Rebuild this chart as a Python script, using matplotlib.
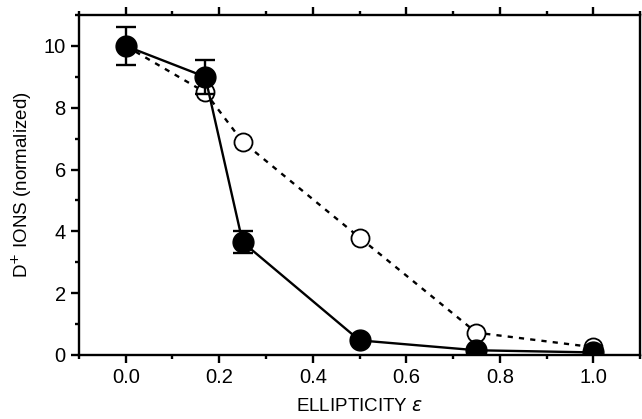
import matplotlib
matplotlib.use("Agg")
import matplotlib.pyplot as plt
from matplotlib.ticker import MultipleLocator

plt.rcParams['font.family'] = ['Liberation Sans', 'DejaVu Sans']

ellipticity = [0.0, 0.17, 0.25, 0.5, 0.75, 1.0]
filled_vals = [10.0, 9.0, 3.65, 0.47, 0.15, 0.08]
filled_err = [0.6, 0.55, 0.35, 0.0, 0.0, 0.0]
open_vals = [10.0, 8.5, 6.9, 3.8, 0.72, 0.25]

fig = plt.figure(figsize=(6.42, 4.19), dpi=100)
ax = fig.add_axes([0.123, 0.153, 0.874, 0.811])

ax.plot(ellipticity, open_vals, linestyle=(0, (2.2, 2.6)), color='black', lw=1.7,
        marker='o', ms=13, mfc='white', mec='black', mew=1.3, zorder=2)
ax.errorbar(ellipticity, filled_vals, yerr=filled_err, color='black', lw=1.7,
            marker='o', ms=15, mfc='black', mec='black', capsize=7, capthick=1.7,
            elinewidth=1.7, zorder=3)

ax.set_xlim(-0.1, 1.1)
ax.set_ylim(0, 11)
ax.xaxis.set_major_locator(MultipleLocator(0.2))
ax.xaxis.set_minor_locator(MultipleLocator(0.1))
ax.yaxis.set_major_locator(MultipleLocator(2))
ax.yaxis.set_minor_locator(MultipleLocator(1))
ax.xaxis.set_major_formatter(matplotlib.ticker.FormatStrFormatter('%.1f'))

for s in ax.spines.values():
    s.set_linewidth(1.7)
ax.tick_params(which='both', direction='out', width=1.7, labelsize=14.5,
               top=True, right=False)
ax.tick_params(which='major', length=6)
ax.tick_params(which='minor', length=3)

ax.set_xlabel(r'ELLIPTICITY $\mathit{\varepsilon}$', fontsize=13.5, labelpad=8)
ax.set_ylabel(r'D$^{+}$ IONS (normalized)', fontsize=13.5, labelpad=6)
ax.yaxis.set_label_coords(-0.08, 0.5)

fig.savefig('out.png', dpi=100)
